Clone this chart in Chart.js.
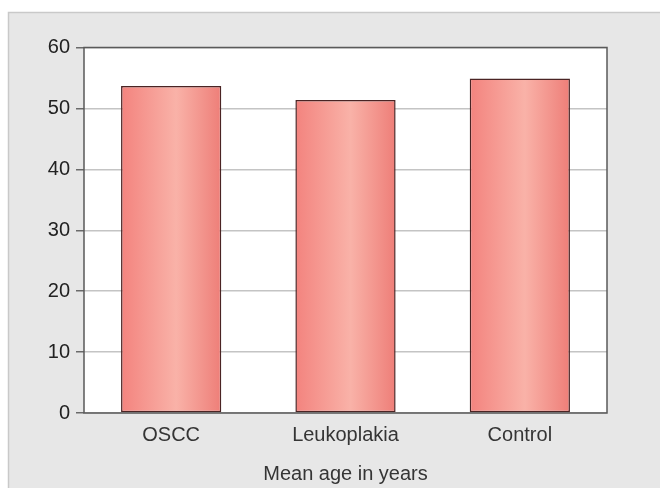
<!DOCTYPE html>
<html>
<head>
<meta charset="utf-8">
<script src="https://cdn.jsdelivr.net/npm/chart.js@4/dist/chart.umd.min.js"></script>
<style>
  html, body { margin: 0; padding: 0; background: #ffffff; }
  #wrap { width: 660px; height: 488px; }
</style>
</head>
<body>
<div id="wrap"><canvas id="c" width="660" height="488"></canvas></div>
<script>
// Mean age (years) for each study group
const groups = ['OSCC', 'Leukoplakia', 'Control'];
const meanAge = [53.7, 51.4, 54.9];
const yTicks = [0, 10, 20, 30, 40, 50, 60];
const xTitle = 'Mean age in years';

const FONT = '"Liberation Sans", Arial, Helvetica, sans-serif';
const BAR_PCT = 0.575;

// Horizontal light stripe across each bar
function barGradient(context) {
  const chart = context.chart;
  const xs = chart.scales && chart.scales.x;
  if (!xs || context.dataIndex === undefined) return '#f39a94';
  const cx = xs.getPixelForValue(context.dataIndex);
  const w = (xs.width / groups.length) * BAR_PCT;
  if (!isFinite(cx) || !isFinite(w) || w <= 0) return '#f39a94';
  const g = chart.ctx.createLinearGradient(cx - w / 2, 0, cx + w / 2, 0);
  g.addColorStop(0, '#f3837e');
  g.addColorStop(0.55, '#f9b2a8');
  g.addColorStop(1, '#ee7e78');
  return g;
}

// Grey panel behind the chart and white plotting area with a box round it
const framePlugin = {
  id: 'frame',
  beforeDraw(chart) {
    const ctx = chart.ctx;
    const a = chart.chartArea;
    ctx.save();
    ctx.fillStyle = '#ffffff';
    ctx.fillRect(0, 0, chart.width, chart.height);
    ctx.fillStyle = '#e7e7e7';
    ctx.fillRect(8, 12, chart.width - 8, chart.height - 12);
    ctx.strokeStyle = '#c9c9c9';
    ctx.lineWidth = 1.5;
    ctx.beginPath();
    ctx.moveTo(8.5, chart.height);
    ctx.lineTo(8.5, 12.5);
    ctx.lineTo(chart.width, 12.5);
    ctx.stroke();
    ctx.fillStyle = '#ffffff';
    ctx.fillRect(a.left, a.top, a.right - a.left, a.bottom - a.top);
    ctx.restore();
  },
  afterDatasetsDraw(chart) {
    const ctx = chart.ctx;
    const a = chart.chartArea;
    ctx.save();
    ctx.strokeStyle = '#5a5a5a';
    ctx.lineWidth = 1.5;
    ctx.strokeRect(a.left, a.top, a.right - a.left, a.bottom - a.top);
    ctx.restore();
  }
};

new Chart(document.getElementById('c'), {
  type: 'bar',
  data: {
    labels: groups,
    datasets: [{
      data: meanAge,
      backgroundColor: barGradient,
      borderColor: '#4a2424',
      borderWidth: 1.5,
      borderSkipped: false,
      barPercentage: BAR_PCT,
      categoryPercentage: 1.0
    }]
  },
  options: {
    responsive: false,
    animation: false,
    devicePixelRatio: 1,
    layout: { padding: { top: 47.5, right: 53, left: 0, bottom: 0 } },
    plugins: {
      legend: { display: false },
      tooltip: { enabled: false }
    },
    scales: {
      x: {
        grid: { display: false, drawTicks: false },
        border: { display: false },
        ticks: {
          padding: 10,
          color: '#353535',
          font: { family: FONT, size: 20 }
        },
        title: {
          display: true,
          text: xTitle,
          color: '#353535',
          font: { family: FONT, size: 20 },
          padding: { top: 9, bottom: 2 }
        },
        afterFit(scale) { scale.height = 75; }
      },
      y: {
        min: 0,
        max: 60,
        afterBuildTicks(scale) {
          scale.ticks = yTicks.map(v => ({ value: v }));
        },
        grid: {
          color: '#c4c4c4',
          lineWidth: 1.5,
          tickColor: '#6a6a6a',
          tickLength: 8
        },
        border: { display: false },
        ticks: {
          padding: 6,
          color: '#222222',
          font: { family: FONT, size: 20 }
        },
        afterFit(scale) { scale.width = 84; }
      }
    }
  },
  plugins: [framePlugin]
});
</script>
</body>
</html>
